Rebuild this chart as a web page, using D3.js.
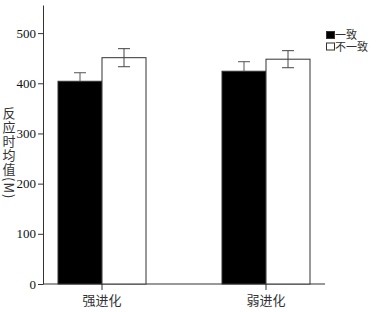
<!DOCTYPE html>
<html>
<head>
<meta charset="utf-8">
<script src="https://cdn.jsdelivr.net/npm/d3@7"></script>
<style>
  body { margin: 0; background: #fff; }
  svg { display: block; }
</style>
</head>
<body>
<script>
const categories = ["强进化", "弱进化"]
const series = ["一致", "不一致"]
const means = [[404, 451], [424, 448]]
const errors = [[17, 18], [19, 17]]
const yTicks = [0, 100, 200, 300, 400, 500]

const width = 382, height = 312
const svg = d3.select("body").append("svg")
    .attr("width", width).attr("height", height)

const axisColor = "#333"
const serif = "'Liberation Serif', 'Times New Roman', serif"
const cjk = "'Noto Sans CJK SC', sans-serif"

let y = d3.scaleLinear().domain([0, 556]).range([284, 5])
let x = d3.scalePoint().domain(categories).range([20, 348]).padding(0.5)
let xs = d3.scaleBand().domain(series).range([-44, 44])
const fills = ["#000", "#fff"]

// y axis
let yAxis = svg.append("g")
    .attr("transform", "translate(43,0)")
    .call(d3.axisLeft(y).tickValues(yTicks).tickSize(5).tickPadding(2).tickSizeOuter(0))
yAxis.select(".domain").attr("stroke", axisColor)
yAxis.selectAll(".tick line").attr("stroke", axisColor)
yAxis.selectAll(".tick text")
    .attr("font-family", serif).attr("font-size", 13).attr("fill", "#111")

// x axis
let xAxis = svg.append("g")
    .attr("transform", "translate(0,284)")
xAxis.append("line")
    .attr("x1", 43).attr("x2", 325)
    .attr("stroke", axisColor)
xAxis.selectAll(".tick")
    .data(categories).enter()
    .append("g")
        .attr("transform", d => "translate(" + x(d) + ",0)")
        .each(function (d) {
            let g = d3.select(this)
            g.append("line").attr("y2", 6).attr("stroke", axisColor)
            g.append("text").attr("y", 21)
                .attr("text-anchor", "middle")
                .attr("font-family", cjk).attr("font-size", 13)
                .attr("fill", "#333")
                .text(d)
        })

// bars
let groups = svg.append("g").selectAll("g")
    .data(categories).enter()
    .append("g")
        .attr("transform", d => "translate(" + x(d) + ",0)")

groups.selectAll("rect")
    .data((d, i) => series.map((s, j) => ({ s: s, j: j, v: means[i][j] })))
    .enter()
    .append("rect")
        .attr("x", d => xs(d.s))
        .attr("y", d => y(d.v))
        .attr("width", xs.bandwidth())
        .attr("height", d => y(0) - y(d.v))
        .attr("fill", d => fills[d.j])
        .attr("stroke", axisColor)
        .attr("stroke-width", 1)

// error bars
groups.each(function (c, i) {
    series.forEach((s, j) => {
        let cx = xs(s) + xs.bandwidth() / 2
        let hi = y(means[i][j] + errors[i][j])
        let lo = y(means[i][j] - errors[i][j])
        let g = d3.select(this).append("g")
            .attr("stroke", j == 0 ? "#555" : "#444")
            .attr("stroke-width", 1)
        g.append("line").attr("x1", cx).attr("x2", cx).attr("y1", hi).attr("y2", j == 0 ? y(means[i][j]) : lo)
        g.append("line").attr("x1", cx - 6).attr("x2", cx + 6).attr("y1", hi).attr("y2", hi)
        if (j == 1) g.append("line").attr("x1", cx - 6).attr("x2", cx + 6).attr("y1", lo).attr("y2", lo)
    })
})

// legend
let legend = svg.append("g").attr("transform", "translate(326,30)")
series.forEach((s, j) => {
    let row = legend.append("g").attr("transform", "translate(0," + j * 11.5 + ")")
    row.append("rect").attr("width", 8).attr("height", 7)
        .attr("x", 0.5).attr("y", 1.5)
        .attr("fill", fills[j]).attr("stroke", "#333")
    row.append("text").attr("x", 9).attr("y", 9)
        .attr("font-family", cjk).attr("font-size", 11)
        .attr("fill", "#333")
        .text(s)
})

// y label
svg.append("text")
    .attr("x", 9).attr("y", 107)
    .attr("font-family", cjk).attr("font-size", 13)
    .attr("letter-spacing", 1)
    .attr("fill", "#333")
    .style("writing-mode", "vertical-rl")
    .text("反应时均值(M)")
</script>
</body>
</html>
